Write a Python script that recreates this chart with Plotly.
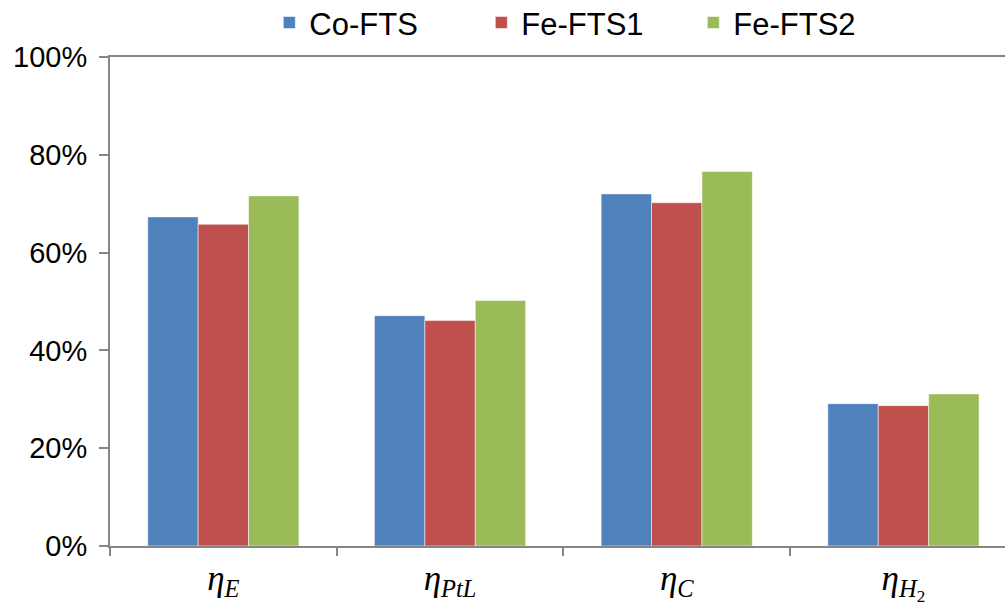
import plotly.graph_objects as go

categories = ["<i>η</i><sub><i>E</i></sub>", "<i>η</i><sub><i>PtL</i></sub>",
              "<i>η</i><sub><i>C</i></sub>", "<i>η</i><sub><i>H</i><sub>2</sub></sub>"]
series_names = ["Co-FTS", "Fe-FTS1", "Fe-FTS2"]
co_fts = [0.673, 0.471, 0.720, 0.291]
fe_fts1 = [0.658, 0.461, 0.702, 0.287]
fe_fts2 = [0.716, 0.502, 0.766, 0.311]
colors = ["#4F81BD", "#C0504D", "#9BBB59"]
y_ticks = [0, 0.2, 0.4, 0.6, 0.8, 1.0]
y_ticktext = ["0%", "20%", "40%", "60%", "80%", "100%"]

xpos = list(range(len(categories)))
fig = go.Figure()
for name, vals, col in zip(series_names, [co_fts, fe_fts1, fe_fts2], colors):
    fig.add_trace(go.Bar(x=xpos, y=vals, name=name,
                         marker=dict(color=col, line=dict(color="rgba(255,255,255,0.5)", width=1))))

axis_gray = "#868686"
fig.update_layout(
    width=1005, height=606,
    margin=dict(l=110, r=0, t=57, b=60, autoexpand=False),
    paper_bgcolor="white", plot_bgcolor="white",
    barmode="group", bargap=0.333, bargroupgap=0,
    font=dict(family="Liberation Sans, Arial", color="black"),
    legend=dict(orientation="h", x=0.178, xanchor="left", y=1.125, yanchor="top",
                font=dict(size=31), entrywidth=167, entrywidthmode="pixels",
                itemwidth=30,
                traceorder="normal", bgcolor="rgba(0,0,0,0)"),
    xaxis=dict(range=[-0.5, 3.448], tickmode="array", tickvals=xpos, ticktext=categories,
               ticks="", showgrid=False, zeroline=False, automargin=False,
               showline=True, linecolor=axis_gray, linewidth=2, mirror=True,
               tickfont=dict(family="Liberation Serif, DejaVu Serif", size=35),
               ticklabelstandoff=0,
               minor=dict(tickmode="array", tickvals=[-0.5, 0.5, 1.5, 2.5], ticks="outside",
                          ticklen=8, tickwidth=2, tickcolor=axis_gray, showgrid=False)),
    yaxis=dict(range=[0, 1.0], tickmode="array", tickvals=y_ticks, ticktext=y_ticktext,
               ticks="outside", ticklen=9, tickwidth=2, tickcolor=axis_gray,
               showline=True, linecolor=axis_gray, linewidth=2, automargin=False,
               showgrid=False, zeroline=False,
               tickfont=dict(size=29), ticklabelstandoff=6),
)
fig.write_html("out.html")
